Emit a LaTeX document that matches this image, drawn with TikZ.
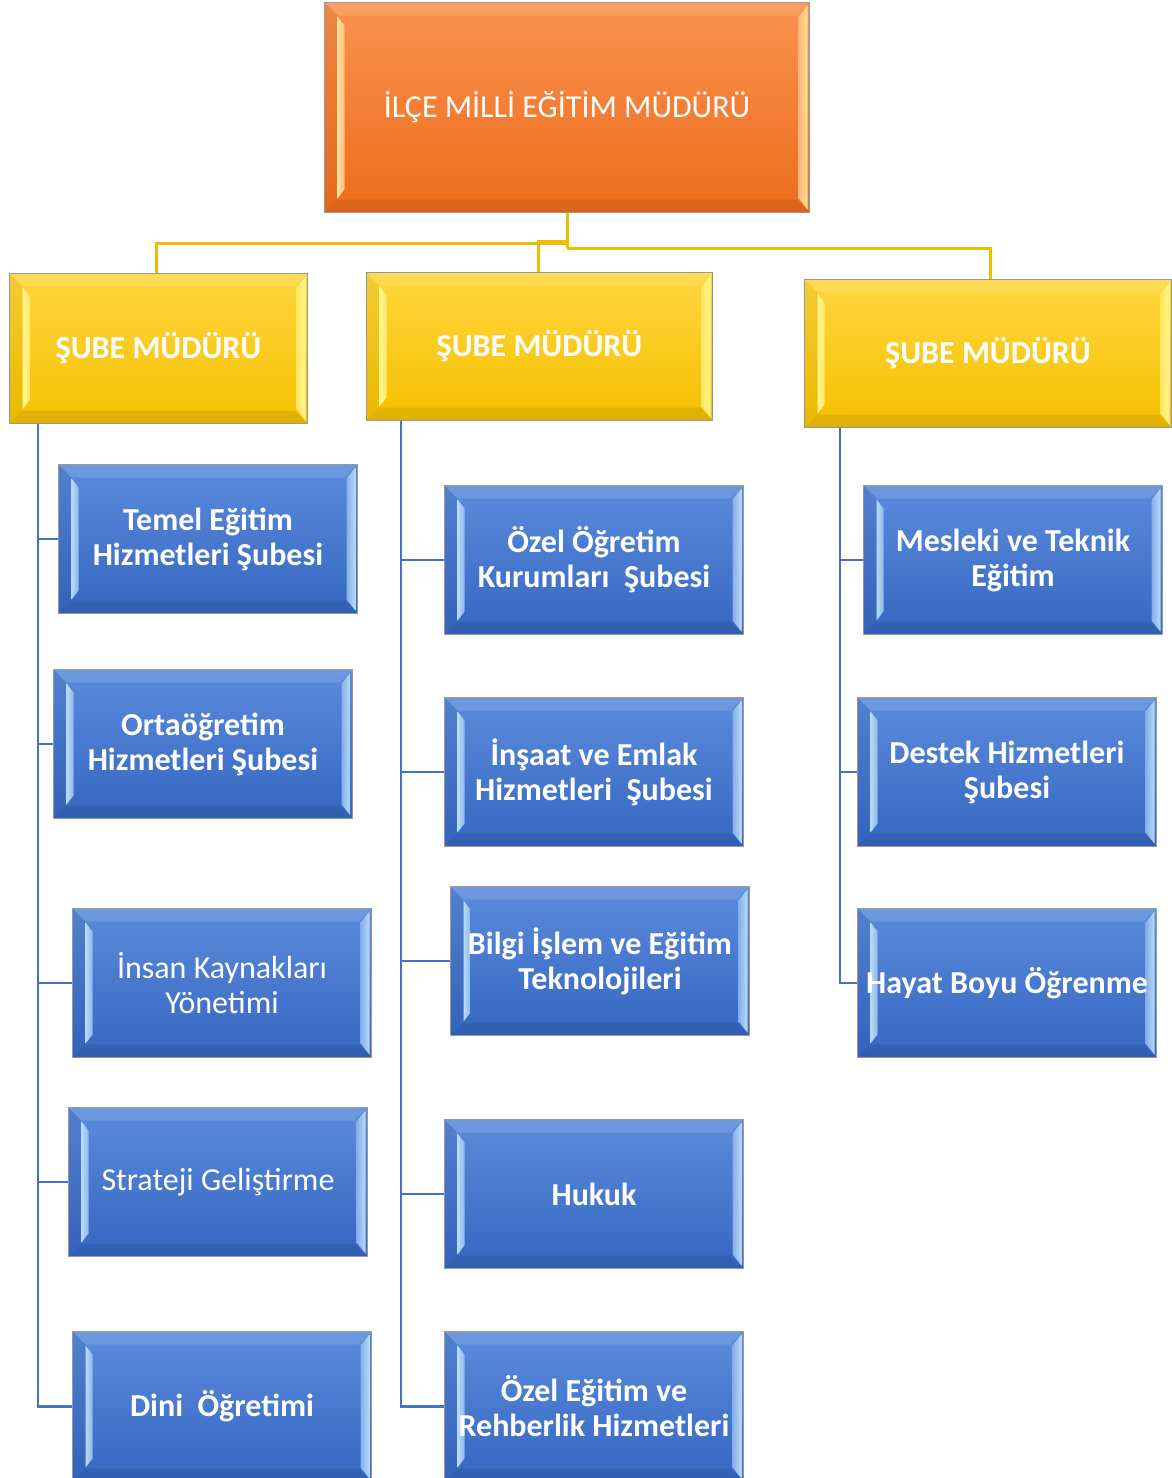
\documentclass[tikz,border=0pt]{standalone}
\usepackage{fontspec}
\setmainfont{Carlito}
\usetikzlibrary{calc}
\definecolor{blueTop}{HTML}{5B8BDB}
\definecolor{blueBot}{HTML}{3567C2}
\definecolor{blueLight}{HTML}{B8DAFA}
\definecolor{yelTop}{HTML}{FFD63F}
\definecolor{yelBot}{HTML}{F5C000}
\definecolor{yelLight}{HTML}{FFF78C}
\definecolor{orTop}{HTML}{F8924F}
\definecolor{orBot}{HTML}{EE6C1B}
\definecolor{orLight}{HTML}{FFE0A0}
\definecolor{yLine}{HTML}{EDBE00}
\definecolor{bLine}{HTML}{4472C4}
\tikzset{
  bevel/.style n args={3}{%
    top color=#1, bottom color=#2, draw=black!40, line width=1pt,
    text=white, align=center, anchor=north west, inner sep=2pt,
    path picture={
      % left outer facet, slightly darker
      \fill[#2!80!black, opacity=0.18]
        (path picture bounding box.north west)
        -- ([xshift=13pt,yshift=-13pt]path picture bounding box.north west)
        -- ([xshift=13pt,yshift=13pt]path picture bounding box.south west)
        -- (path picture bounding box.south west) -- cycle;
      % top facet, lighter
      \fill[white, opacity=0.12]
        (path picture bounding box.north west)
        -- ([xshift=13pt,yshift=-13pt]path picture bounding box.north west)
        -- ([xshift=-13pt,yshift=-13pt]path picture bounding box.north east)
        -- (path picture bounding box.north east) -- cycle;
      % bottom facet, darker
      \fill[black, opacity=0.08]
        (path picture bounding box.south west)
        -- ([xshift=13pt,yshift=13pt]path picture bounding box.south west)
        -- ([xshift=-13pt,yshift=13pt]path picture bounding box.south east)
        -- (path picture bounding box.south east) -- cycle;
      % left light strip
      \path[left color=#3, right color=#3!55!#1]
        ([xshift=13pt,yshift=-14pt]path picture bounding box.north west)
        -- ([xshift=20pt,yshift=-23pt]path picture bounding box.north west)
        -- ([xshift=20pt,yshift=23pt]path picture bounding box.south west)
        -- ([xshift=13pt,yshift=14pt]path picture bounding box.south west) -- cycle;
      % right light facet
      \path[left color=#3!45!#1, right color=#3]
        ([xshift=-2pt,yshift=-3pt]path picture bounding box.north east)
        -- ([xshift=-11pt,yshift=-14pt]path picture bounding box.north east)
        -- ([xshift=-11pt,yshift=14pt]path picture bounding box.south east)
        -- ([xshift=-2pt,yshift=3pt]path picture bounding box.south east) -- cycle;
    }},
  topbox/.style={bevel={orTop}{orBot}{orLight}, font=\fontsize{32}{35}\selectfont},
  subox/.style={bevel={yelTop}{yelBot}{yelLight}, font=\fontsize{32}{35}\selectfont\bfseries},
  unitbox/.style={bevel={blueTop}{blueBot}{blueLight}, font=\fontsize{32}{35}\selectfont\bfseries,
    minimum width=299pt, minimum height=149pt},
  unitreg/.style={unitbox, font=\fontsize{32}{35}\selectfont},
  yline/.style={draw=yLine, line width=3pt},
  bline/.style={draw=bLine, line width=2.5pt},
}
\begin{document}
\begin{tikzpicture}[x=1pt,y=-1pt]
\useasboundingbox (0,0) rectangle (1172,1478);
\clip (0,0) rectangle (1172,1478);
\fill[white] (0,0) rectangle (1172,1478);

% top
\node[topbox, minimum width=485pt, minimum height=210pt] (top) at (324,2) {İLÇE MİLLİ EĞİTİM MÜDÜRÜ};

% sube mudurleri
\node[subox, minimum width=298pt, minimum height=150pt] (s1) at (9,273) {ŞUBE MÜDÜRÜ};
\node[subox, minimum width=346pt, minimum height=148pt] (s2) at (366,272) {ŞUBE MÜDÜRÜ};
\node[subox, minimum width=367pt, minimum height=148pt] (s3) at (804,279) {ŞUBE MÜDÜRÜ};

% left column
\node[unitbox] (temel) at (58,464) {Temel Eğitim\\Hizmetleri Şubesi};
\node[unitbox] (orta) at (53,669) {Ortaöğretim\\Hizmetleri Şubesi};
\node[unitreg] (insan) at (72,908) {İnsan Kaynakları\\Yönetimi};
\node[unitreg] (strateji) at (68,1107) {Strateji Geliştirme};
\node[unitbox, minimum height=150pt] (dini) at (72,1331) {Dini~ Öğretimi};

% middle column
\node[unitbox] (ozel) at (444,485) {Özel Öğretim\\Kurumları~ Şubesi};
\node[unitbox] (insaat) at (444,697) {İnşaat ve Emlak\\Hizmetleri~ Şubesi};
\node[unitbox] (bilgi) at (450,886) {Bilgi İşlem ve Eğitim\\Teknolojileri};
\node[unitbox] (hukuk) at (444,1119) {Hukuk};
\node[unitbox, minimum height=150pt] (rehber) at (444,1331) {Özel Eğitim ve\\Rehberlik Hizmetleri};

% right column
\node[unitbox] (mesleki) at (863,485) {Mesleki ve Teknik\\Eğitim};
\node[unitbox] (destek) at (857,697) {Destek Hizmetleri\\Şubesi};
\node[unitbox] (hayat) at (857,908) {Hayat Boyu Öğrenme};

% yellow connectors
\coordinate (j1) at ($(top.south)+(0,30)$);
\coordinate (j2) at ($(top.south)+(0,28)$);
\coordinate (j3) at ($(top.south)+(0,35)$);
\draw[yline] (top.south) -- (j3);
\draw[yline] (j1) -| ([xshift=-2pt]s1.north);
\draw[yline] (j2) -| ([xshift=-1pt]s2.north);
\draw[yline] (j3) -| ([xshift=2pt]s3.north);

% blue connectors
\coordinate (t1) at ($(s1.south west)+(29,0)$);
\coordinate (t2) at ($(s2.south west)+(35,0)$);
\coordinate (t3) at ($(s3.south west)+(36,0)$);
\foreach \c in {temel,orta,insan,strateji,dini} \draw[bline] (t1) |- (\c.west);
\foreach \c in {ozel,insaat,bilgi,hukuk,rehber} \draw[bline] (t2) |- (\c.west);
\foreach \c in {mesleki,destek,hayat} \draw[bline] (t3) |- (\c.west);
\end{tikzpicture}
\end{document}
